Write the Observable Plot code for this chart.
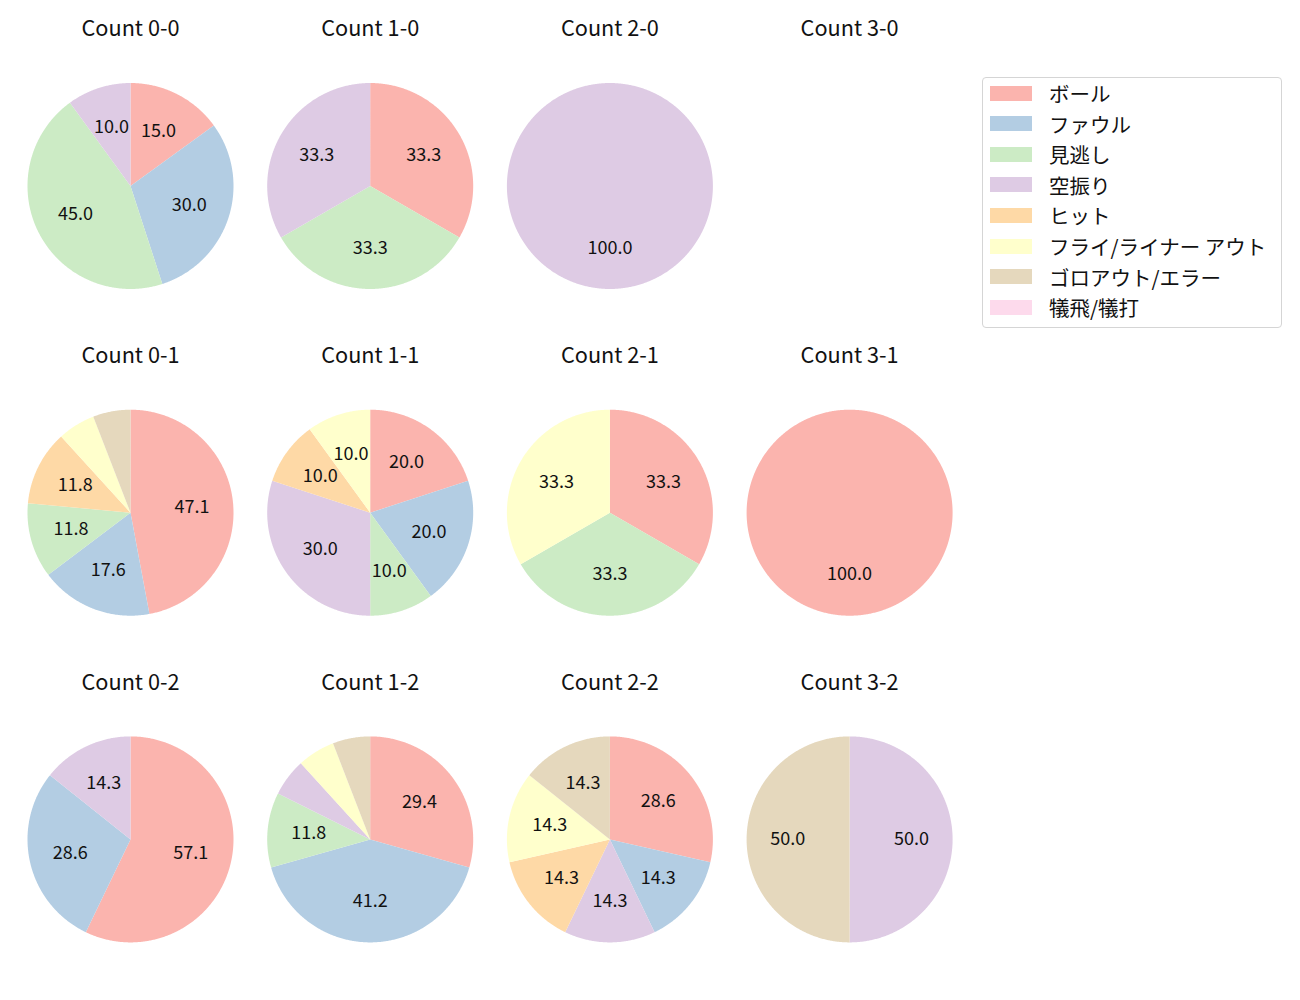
<!DOCTYPE html>
<html>
<head>
<meta charset="utf-8">
<script src="https://cdn.jsdelivr.net/npm/d3@7"></script>
<script src="https://cdn.jsdelivr.net/npm/@observablehq/plot@0.6"></script>
<style>
  body { margin: 0; background: #fff; font-family: "Noto Sans CJK JP", "Noto Sans", sans-serif; }
  #wrap { position: relative; width: 1300px; height: 1000px; }
  #wrap svg { position: absolute; left: 0; top: 0; font-family: "Noto Sans CJK JP", "Noto Sans", sans-serif; }
  #legend { position: absolute; left: 982px; top: 77px; width: 300px; height: 251px; box-sizing: border-box;
            border: 1px solid #d5d5d5; border-radius: 4px; background: #fff; }
  .lsw { position: absolute; left: 7px; width: 42px; height: 15px; }
  .ltx { position: absolute; left: 66px; font-size: 20.5px; color: #111; white-space: nowrap; line-height: 30px; height: 30px; }
</style>
</head>
<body>
<div id="wrap"><div id="legend"></div></div>
<script>
// Categories and colors
const categories = ["ボール", "ファウル", "見逃し", "空振り", "ヒット", "フライ/ライナー アウト", "ゴロアウト/エラー", "犠飛/犠打"];
const colors = ["#fbb4ae", "#b3cde3", "#ccebc5", "#decbe4", "#fed9a6", "#ffffcc", "#e5d8bd", "#fddaec"];

// Balls (columns) and strikes (rows)
const balls = [0, 1, 2, 3];
const strikes = [0, 1, 2];

// Pitch counts per category, in category order
const count_0_0 = [3, 6, 9, 2, 0, 0, 0, 0];
const count_1_0 = [1, 0, 1, 1, 0, 0, 0, 0];
const count_2_0 = [0, 0, 0, 1, 0, 0, 0, 0];
const count_3_0 = [0, 0, 0, 0, 0, 0, 0, 0];
const count_0_1 = [8, 3, 2, 0, 2, 1, 1, 0];
const count_1_1 = [2, 2, 1, 3, 1, 1, 0, 0];
const count_2_1 = [1, 0, 1, 0, 0, 1, 0, 0];
const count_3_1 = [1, 0, 0, 0, 0, 0, 0, 0];
const count_0_2 = [4, 2, 0, 1, 0, 0, 0, 0];
const count_1_2 = [5, 7, 2, 1, 0, 1, 1, 0];
const count_2_2 = [2, 1, 0, 1, 1, 1, 1, 0];
const count_3_2 = [0, 0, 0, 1, 0, 0, 1, 0];

const countTable = [
  [count_0_0, count_1_0, count_2_0, count_3_0],
  [count_0_1, count_1_1, count_2_1, count_3_1],
  [count_0_2, count_1_2, count_2_2, count_3_2]
];

// Layout in pie-radius units
const colStep = 239.7 / 103;
const rowStep = 326.7 / 103;

const wedgePts = [];
const labels = [];
const titles = [];
for (const s of strikes) {
  for (const b of balls) {
    const vals = countTable[s][b];
    const cx = b * colStep, cy = -s * rowStep;
    titles.push({x: cx, y: cy, text: `Count ${b}-${s}`});
    const total = d3.sum(vals);
    if (!total) continue;
    let cum = 0;
    vals.forEach((v, i) => {
      if (!v) return;
      const a0 = 90 - 360 * cum / total;
      const a1 = 90 - 360 * (cum + v) / total;
      const id = `${b}-${s}-${i}`;
      const n = Math.max(2, Math.ceil(Math.abs(a1 - a0) * 2));
      wedgePts.push({x: cx, y: cy, id, cat: categories[i]});
      for (let k = 0; k <= n; k++) {
        const a = (a0 + (a1 - a0) * k / n) * Math.PI / 180;
        wedgePts.push({x: cx + Math.cos(a), y: cy + Math.sin(a), id, cat: categories[i]});
      }
      wedgePts.push({x: cx, y: cy, id, cat: categories[i]});
      const pct = 100 * v / total;
      if (pct >= 9.95) {
        const am = ((a0 + a1) / 2) * Math.PI / 180;
        labels.push({x: cx + 0.6 * Math.cos(am), y: cy + 0.6 * Math.sin(am), text: pct.toFixed(1)});
      }
      cum += v;
    });
  }
}

const chart = Plot.plot({
  width: 1300,
  height: 1000,
  margin: 0,
  style: {background: "transparent", fontFamily: "'Noto Sans CJK JP', 'Noto Sans', sans-serif"},
  x: {domain: [-130 / 103, 1170 / 103], axis: null},
  y: {domain: [-814.5 / 103, 185.5 / 103], axis: null},
  color: {type: "ordinal", domain: categories, range: colors},
  marks: [
    Plot.line(wedgePts, {x: "x", y: "y", z: "id", fill: "cat", stroke: "none", curve: "linear"}),
    Plot.text(labels, {x: "x", y: "y", text: "text", fontSize: 18, fill: "#111"}),
    Plot.text(titles, {x: "x", y: "y", text: "text", fontSize: 21.7, fill: "#111", dy: -156.5})
  ]
});
document.getElementById("wrap").prepend(chart);

// Legend
const legend = document.getElementById("legend");
categories.forEach((c, i) => {
  const center = 15 + i * 30.6; // relative to legend padding box
  const sw = document.createElement("div");
  sw.className = "lsw";
  sw.style.top = (center - 7.5) + "px";
  sw.style.background = colors[i];
  const tx = document.createElement("div");
  tx.className = "ltx";
  tx.style.top = (center - 15) + "px";
  tx.textContent = c;
  legend.appendChild(sw);
  legend.appendChild(tx);
});
</script>
</body>
</html>
